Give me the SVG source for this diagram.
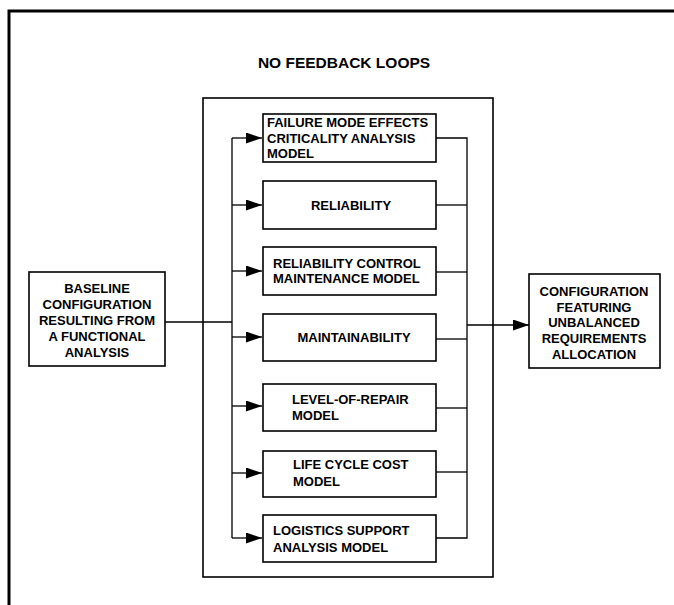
<svg xmlns="http://www.w3.org/2000/svg" width="674" height="605" viewBox="0 0 674 605">
<style>
.bx{fill:#fff;stroke:#000;stroke-width:1.6}
.t{font-family:"Liberation Sans",Arial,sans-serif;font-weight:bold;font-size:13px;fill:#000}
.c{text-anchor:middle}
.ln{fill:none;stroke:#000;stroke-width:1.3}
</style>
<defs>
<marker id="ah" markerWidth="16" markerHeight="11" refX="16" refY="5.5" orient="auto" markerUnits="userSpaceOnUse">
<path d="M0,0 L16,5.5 L0,11 Z" fill="#000"/>
</marker>
</defs>
<rect width="674" height="605" fill="#fff"/>
<path d="M9,605 V11 H674" fill="none" stroke="#000" stroke-width="3"/>
<text class="t c" x="344" y="68" style="font-size:15.5px">NO FEEDBACK LOOPS</text>
<g id="container"><rect class="bx" x="203" y="98" width="290" height="479" stroke-width="1.3"/></g>
<g id="connectors">
<path class="ln" d="M165,322 H232"/>
<path class="ln" d="M232,138 V538"/>
<path class="ln" d="M232,138 H262" marker-end="url(#ah)"/>
<path class="ln" d="M232,205 H262" marker-end="url(#ah)"/>
<path class="ln" d="M232,271 H262" marker-end="url(#ah)"/>
<path class="ln" d="M232,337 H262" marker-end="url(#ah)"/>
<path class="ln" d="M232,406 H262" marker-end="url(#ah)"/>
<path class="ln" d="M232,473 H262" marker-end="url(#ah)"/>
<path class="ln" d="M232,538 H262" marker-end="url(#ah)"/>
<path class="ln" d="M436,138 H467 V538 H436"/>
<path class="ln" d="M436,205 H467"/>
<path class="ln" d="M436,272 H467"/>
<path class="ln" d="M436,339 H467"/>
<path class="ln" d="M436,408 H467"/>
<path class="ln" d="M436,472 H467"/>
<path class="ln" d="M467,325 H529" marker-end="url(#ah)"/>
</g>
<g id="baseline">
<rect class="bx" x="29" y="272" width="136" height="94"/>
<text class="t c" x="97" y="293">BASELINE</text>
<text class="t c" x="97" y="309">CONFIGURATION</text>
<text class="t c" x="97" y="325">RESULTING FROM</text>
<text class="t c" x="97" y="341">A FUNCTIONAL</text>
<text class="t c" x="97" y="357">ANALYSIS</text>
</g>
<g id="fmeca">
<rect class="bx" x="263" y="114" width="173" height="48"/>
<text class="t" x="267" y="127">FAILURE MODE EFFECTS</text>
<text class="t" x="267" y="143">CRITICALITY ANALYSIS</text>
<text class="t" x="267" y="158">MODEL</text>
</g>
<g id="reliability">
<rect class="bx" x="263" y="181" width="173" height="48"/>
<text class="t c" x="351" y="210">RELIABILITY</text>
</g>
<g id="rcm">
<rect class="bx" x="263" y="247" width="173" height="48"/>
<text class="t" x="273" y="268">RELIABILITY CONTROL</text>
<text class="t" x="273" y="283">MAINTENANCE MODEL</text>
</g>
<g id="maintainability">
<rect class="bx" x="263" y="314" width="173" height="47"/>
<text class="t c" x="354" y="342">MAINTAINABILITY</text>
</g>
<g id="lor">
<rect class="bx" x="263" y="384" width="173" height="47"/>
<text class="t" x="292" y="404">LEVEL-OF-REPAIR</text>
<text class="t" x="292" y="420">MODEL</text>
</g>
<g id="lcc">
<rect class="bx" x="263" y="451" width="173" height="46"/>
<text class="t" x="293" y="469">LIFE CYCLE COST</text>
<text class="t" x="293" y="486">MODEL</text>
</g>
<g id="lsa">
<rect class="bx" x="263" y="515" width="173" height="47"/>
<text class="t" x="273" y="535">LOGISTICS SUPPORT</text>
<text class="t" x="273" y="552">ANALYSIS MODEL</text>
</g>
<g id="output">
<rect class="bx" x="529" y="274" width="131" height="94"/>
<text class="t c" x="594" y="296">CONFIGURATION</text>
<text class="t c" x="594" y="312">FEATURING</text>
<text class="t c" x="594" y="327">UNBALANCED</text>
<text class="t c" x="594" y="343">REQUIREMENTS</text>
<text class="t c" x="594" y="359">ALLOCATION</text>
</g>
</svg>
